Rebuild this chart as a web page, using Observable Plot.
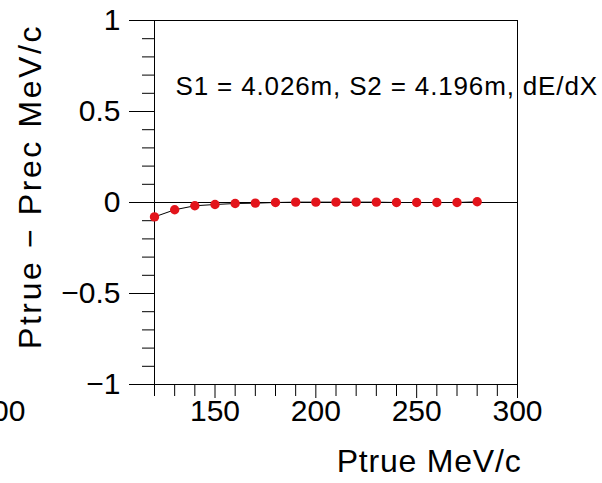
<!DOCTYPE html>
<html><head><meta charset="utf-8">
<script src="https://cdn.jsdelivr.net/npm/d3@7"></script>
<script src="https://cdn.jsdelivr.net/npm/@observablehq/plot@0.6"></script>
<style>
body{margin:0;background:#fff;}
#chart svg{font-family:"Liberation Sans",Arial,sans-serif;}
</style></head><body><div id="chart"></div>
<script>
const ptrue = [120,130,140,150,160,170,180,190,200,210,220,230,240,250,260,270,280];
const residual = [-0.079,-0.040,-0.018,-0.011,-0.0055,-0.0037,0,0.002,0.002,0.002,0.002,0.002,0,0,0,0,0.004];
const xMajorTicks = [150,200,250,300];
const xMinorTicks = [120,130,140,160,170,180,190,210,220,230,240,260,270,280,290];
const yMajorTicks = [-1,-0.5,0,0.5,1];
const yMinorTicks = [-0.9,-0.8,-0.7,-0.6,-0.4,-0.3,-0.2,-0.1,0.1,0.2,0.3,0.4,0.6,0.7,0.8,0.9];
const annotation = ["S1 = 4.026m, S2 = 4.196m, dE/dX"];
const xTitle = ["Ptrue MeV/c"];
const yTitle = ["Ptrue \u2212 Prec MeV/c"];
const cutLabel = ["100"];

const data = ptrue.map((x,i)=>({x, y: residual[i]}));
const fmt = d => d < 0 ? "\u2212" + Math.abs(d) : String(d);

const chart = Plot.plot({
  width: 602, height: 483,
  marginLeft: 154, marginRight: 85, marginTop: 20, marginBottom: 99,
  x: {domain: [120, 300]},
  y: {domain: [-1, 1]},
  style: {background: "white", overflow: "visible", color: "black"},
  marks: [
    Plot.frame({stroke: "black"}),
    Plot.ruleY([0], {stroke: "black"}),
    Plot.axisY({ticks: yMinorTicks, tickSize: 12, tickFormat: () => "", label: null}),
    Plot.axisY({ticks: yMajorTicks, tickSize: 25, tickPadding: 9, fontSize: 30, tickFormat: fmt, label: null}),
    Plot.axisX({ticks: xMinorTicks, tickSize: 12, tickFormat: () => "", label: null}),
    Plot.axisX({ticks: xMajorTicks, tickSize: 14, tickPadding: 1, fontSize: 30, label: null}),
    Plot.line(data, {x: "x", y: "y", stroke: "black", strokeWidth: 1}),
    Plot.dot(data, {x: "x", y: "y", r: 4.7, fill: "#e3141b", stroke: "none"}),
    Plot.text(annotation, {frameAnchor: "top-left", lineAnchor: "middle", dx: 21, dy: 66, textAnchor: "start", fontSize: 26}),
    Plot.text(xTitle, {frameAnchor: "bottom-right", lineAnchor: "middle", dx: 4, dy: 77, textAnchor: "end", fontSize: 32}),
    Plot.text(yTitle, {frameAnchor: "left", textAnchor: "middle", lineAnchor: "middle", rotate: -90, dx: -124, dy: -16, fontSize: 32}),
    Plot.text(cutLabel, {frameAnchor: "bottom-left", lineAnchor: "middle", dx: -129, dy: 27, textAnchor: "end", fontSize: 30})
  ]
});
const spacing = new Map([[annotation[0], "0.85px"], [xTitle[0], "0.8px"], [yTitle[0], "2.6px"]]);
d3.select(chart).selectAll("text").each(function() {
  const s = spacing.get(this.textContent);
  if (s) this.setAttribute("letter-spacing", s);
});
document.getElementById("chart").appendChild(chart);
</script></body></html>
